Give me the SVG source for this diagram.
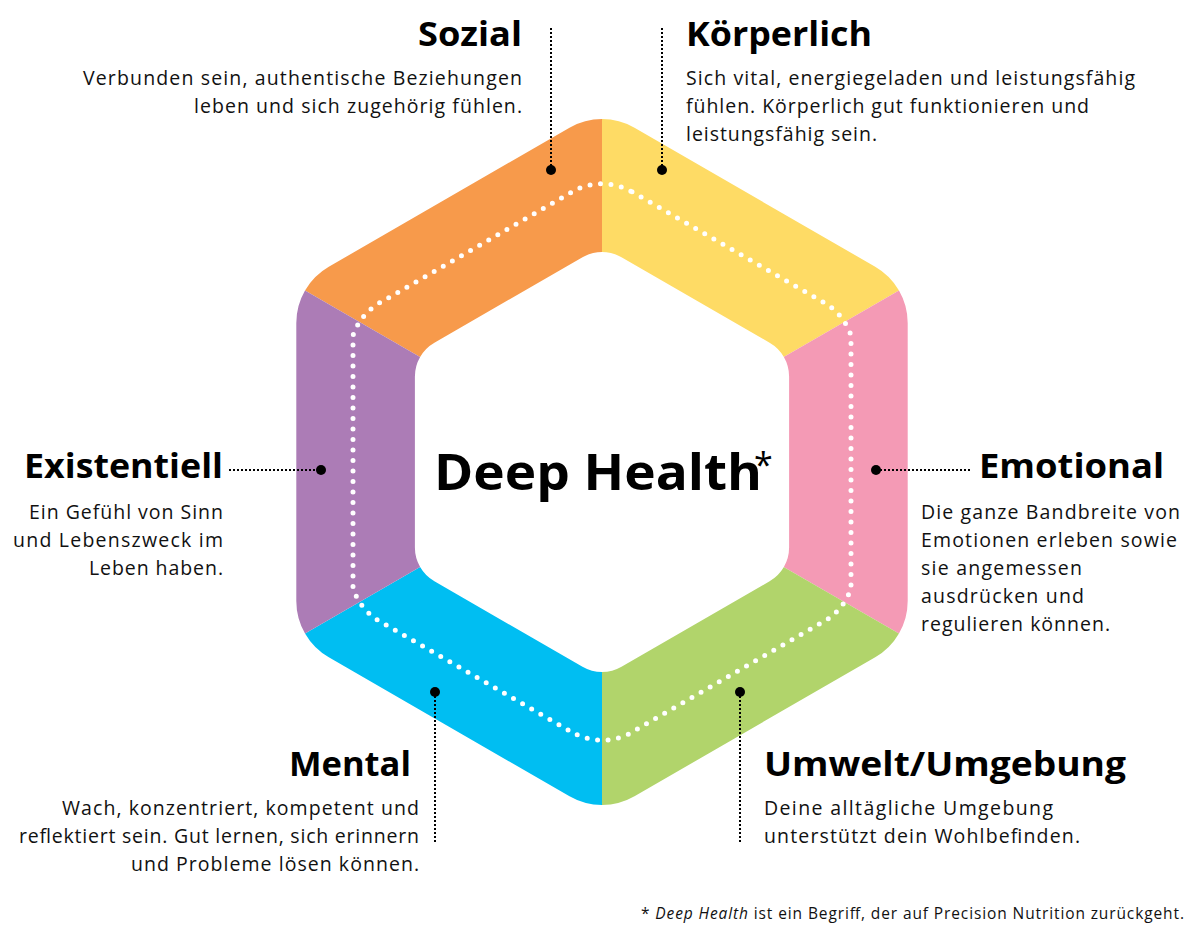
<svg xmlns="http://www.w3.org/2000/svg" width="1200" height="935" viewBox="0 0 1200 935">
  <style>
    .title { font-family: "Open Sans", "Liberation Sans", sans-serif; font-weight: 700; font-size: 34px; fill: #000; }
    .body { font-family: "Open Sans", "Liberation Sans", sans-serif; font-weight: 400; font-size: 19.5px; fill: #111; }
    .center { font-family: "Open Sans", "Liberation Sans", sans-serif; font-weight: 700; font-size: 50px; fill: #000; }
    .star { font-family: "Open Sans", "Liberation Sans", sans-serif; font-weight: 400; font-size: 34px; fill: #000; }
    .foot { font-family: "Open Sans", "Liberation Sans", sans-serif; font-size: 15.5px; fill: #111; }
    .conn { stroke: #000; stroke-width: 2; stroke-dasharray: 2 2; fill: none; }
    .dot { fill: #000; }
    .mid { fill: none; stroke: #fff; stroke-width: 5; stroke-linecap: round; stroke-dasharray: 0 10.5; }
  </style>
  <defs>
    <path id="ring" fill-rule="evenodd" d="M 634.5,127.75 L 875.2,266.75 A 65 65 0 0 1 907.7,323 L 907.7,601 A 65 65 0 0 1 875.2,657.25 L 634.5,796.25 A 65 65 0 0 1 569.5,796.25 L 328.8,657.25 A 65 65 0 0 1 296.3,601 L 296.3,323 A 65 65 0 0 1 328.8,266.75 L 569.5,127.75 A 65 65 0 0 1 634.5,127.75 Z M 621.5,257.25 L 769.6,342.75 A 39 39 0 0 1 789.1,376.5 L 789.1,547.5 A 39 39 0 0 1 769.6,581.25 L 621.5,666.75 A 39 39 0 0 1 582.5,666.75 L 434.4,581.25 A 39 39 0 0 1 414.9,547.5 L 414.9,376.5 A 39 39 0 0 1 434.4,342.75 L 582.5,257.25 A 39 39 0 0 1 621.5,257.25 Z"/>
    <clipPath id="cOrange"><polygon points="602,462 82.4,162 602,-138"/></clipPath>
    <clipPath id="cYellow"><polygon points="602,462 602,-138 1121.6,162"/></clipPath>
    <clipPath id="cPink"><polygon points="602,462 1121.6,162 1121.6,762"/></clipPath>
    <clipPath id="cGreen"><polygon points="602,462 1121.6,762 602,1062"/></clipPath>
    <clipPath id="cBlue"><polygon points="602,462 602,1062 82.4,762"/></clipPath>
    <clipPath id="cPurple"><polygon points="602,462 82.4,762 82.4,162"/></clipPath>
  </defs>

  <g id="sozial">
    <use href="#ring" fill="#F79A4B" clip-path="url(#cOrange)"/>
    <text class="title" x="522" y="46" text-anchor="end" textLength="104" lengthAdjust="spacingAndGlyphs">Sozial</text>
    <text class="body" x="522" y="85" text-anchor="end" textLength="439">Verbunden sein, authentische Beziehungen</text>
    <text class="body" x="522" y="113" text-anchor="end" textLength="328">leben und sich zugehörig fühlen.</text>
  </g>

  <g id="koerperlich">
    <use href="#ring" fill="#FEDB65" clip-path="url(#cYellow)"/>
    <text class="title" x="686" y="46" textLength="186" lengthAdjust="spacingAndGlyphs">Körperlich</text>
    <text class="body" x="686" y="85" textLength="449">Sich vital, energiegeladen und leistungsfähig</text>
    <text class="body" x="686" y="113" textLength="403">fühlen. Körperlich gut funktionieren und</text>
    <text class="body" x="686" y="141" textLength="191">leistungsfähig sein.</text>
  </g>

  <g id="emotional">
    <use href="#ring" fill="#F49AB5" clip-path="url(#cPink)"/>
    <text class="title" x="979" y="478" textLength="185" lengthAdjust="spacingAndGlyphs">Emotional</text>
    <text class="body" x="921" y="519" textLength="259">Die ganze Bandbreite von</text>
    <text class="body" x="921" y="547" textLength="256">Emotionen erleben sowie</text>
    <text class="body" x="921" y="575" textLength="161">sie angemessen</text>
    <text class="body" x="921" y="603" textLength="163">ausdrücken und</text>
    <text class="body" x="921" y="631" textLength="189">regulieren können.</text>
  </g>

  <g id="umwelt">
    <use href="#ring" fill="#B1D46B" clip-path="url(#cGreen)"/>
    <text class="title" x="764" y="776" textLength="362" lengthAdjust="spacingAndGlyphs">Umwelt/Umgebung</text>
    <text class="body" x="764" y="815" textLength="289">Deine alltägliche Umgebung</text>
    <text class="body" x="764" y="843" textLength="316">unterstützt dein Wohlbefinden.</text>
  </g>

  <g id="mental">
    <use href="#ring" fill="#00BEF2" clip-path="url(#cBlue)"/>
    <text class="title" x="411" y="776" text-anchor="end" textLength="122" lengthAdjust="spacingAndGlyphs">Mental</text>
    <text class="body" x="419" y="815" text-anchor="end" textLength="357">Wach, konzentriert, kompetent und</text>
    <text class="body" x="419" y="843" text-anchor="end" textLength="400">reflektiert sein. Gut lernen, sich erinnern</text>
    <text class="body" x="419" y="871" text-anchor="end" textLength="288">und Probleme lösen können.</text>
  </g>

  <g id="existentiell">
    <use href="#ring" fill="#AC7CB6" clip-path="url(#cPurple)"/>
    <text class="title" x="223" y="478" text-anchor="end" textLength="199" lengthAdjust="spacingAndGlyphs">Existentiell</text>
    <text class="body" x="223" y="519" text-anchor="end" textLength="194">Ein Gefühl von Sinn</text>
    <text class="body" x="223" y="547" text-anchor="end" textLength="210">und Lebenszweck im</text>
    <text class="body" x="223" y="575" text-anchor="end" textLength="134">Leben haben.</text>
  </g>

  <g id="deep-health">
    <path class="mid" d="M 632,191.82 L 821,300.93 A 60 60 0 0 1 851,335.57 L 851,588.43 A 60 60 0 0 1 821,623.07 L 632,732.18 A 60 60 0 0 1 572,732.18 L 383,623.07 A 60 60 0 0 1 353,588.43 L 353,335.57 A 60 60 0 0 1 383,300.93 L 572,191.82 A 60 60 0 0 1 632,191.82 Z"/>
    <text class="center" x="434" y="490" textLength="328" lengthAdjust="spacingAndGlyphs">Deep Health</text>
    <text class="star" x="754" y="477">*</text>
  </g>

  <g id="connectors">
    <line class="conn" x1="551" y1="28" x2="551" y2="170"/>
    <circle class="dot" cx="551" cy="170" r="5"/>
    <line class="conn" x1="662" y1="28" x2="662" y2="170"/>
    <circle class="dot" cx="662" cy="170" r="5"/>
    <line class="conn" x1="229" y1="470" x2="321" y2="470"/>
    <circle class="dot" cx="321" cy="470" r="5"/>
    <line class="conn" x1="876" y1="470" x2="970" y2="470"/>
    <circle class="dot" cx="876" cy="470" r="5"/>
    <line class="conn" x1="435" y1="692" x2="435" y2="843"/>
    <circle class="dot" cx="435" cy="692" r="5"/>
    <line class="conn" x1="740" y1="692" x2="740" y2="843"/>
    <circle class="dot" cx="740" cy="692" r="5"/>
  </g>

  <text class="foot" x="1184" y="919" text-anchor="end" textLength="543">* <tspan font-style="italic">Deep Health</tspan> ist ein Begriff, der auf Precision Nutrition zurückgeht.</text>
</svg>
